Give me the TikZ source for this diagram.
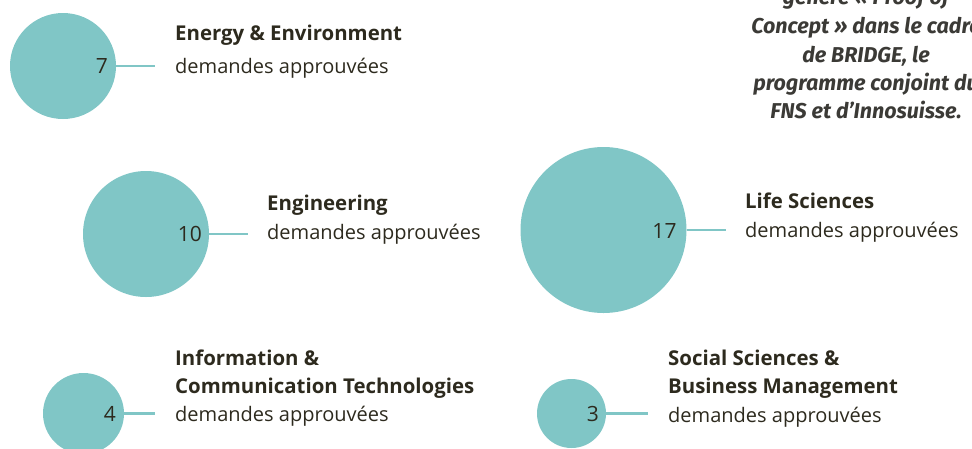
\documentclass[tikz,border=0pt]{standalone}
\usepackage{fontspec}
\setmainfont{Open Sans}
\newfontfamily\handfont{Fira Sans}
\usetikzlibrary{calc}
\definecolor{bubblecol}{HTML}{80C6C6}
\definecolor{ink}{HTML}{2D2A1E}
\definecolor{handink}{HTML}{3B3A36}
\begin{document}
\begin{tikzpicture}[x=1pt,y=-1pt,
  bubble/.style={circle,fill=bubblecol,inner sep=0pt,minimum size=#1},
  num/.style={anchor=base east,font=\fontsize{21}{21}\selectfont,text=ink,inner sep=0pt},
  conn/.style={draw=bubblecol,line width=2.5pt},
  title/.style={anchor=base west,font=\fontsize{20.4}{20.4}\selectfont\bfseries,text=ink,inner sep=0pt},
  sub/.style={anchor=base west,font=\fontsize{20}{20}\selectfont,text=ink,inner sep=0pt},
  handline/.style={anchor=base,font=\handfont\bfseries\itshape\fontsize{21.5}{21.5}\selectfont,text=handink,inner sep=0pt}]
\useasboundingbox (0,0) rectangle (972,448);
\clip (0,0) rectangle (972,448);

% Energy & Environment
\node[bubble=106pt] (c1) at (63,66) {};
\node[num] (n1) at ($(c1.east)+(-8,7)$) {7};
\coordinate (e1) at ($(c1.east)+(39,0)$);
\draw[conn] (c1.east) -- (e1);
\node[title] (t1) at (175,40) {Energy \& Environment};
\node[sub] (s1) at (175,73) {demandes approuvées};

% Engineering
\node[bubble=126pt] (c2) at (146,234) {};
\node[num] (n2) at ($(c2.east)+(-7,7)$) {10};
\coordinate (e2) at ($(c2.east)+(39,0)$);
\draw[conn] (c2.east) -- (e2);
\node[title] (t2) at (267,210) {Engineering};
\node[sub] (s2) at (267,239) {demandes approuvées};

% Life Sciences
\node[bubble=166pt] (c3) at (603.5,230) {};
\node[num] (n3) at ($(c3.east)+(-10,8)$) {17};
\coordinate (e3) at ($(c3.east)+(39,0)$);
\draw[conn] (c3.east) -- (e3);
\node[title] (t3) at (745,208) {Life Sciences};
\node[sub] (s3) at (745,237) {demandes approuvées};

% ICT
\node[bubble=81pt] (c4) at (83.5,413.5) {};
\node[num] (n4) at ($(c4.east)+(-8,8)$) {4};
\coordinate (e4) at ($(c4.east)+(31,0)$);
\draw[conn] (c4.east) -- (e4);
\node[title] (t4a) at (175,365) {Information \&};
\node[title] (t4b) at (175,393) {Communication Technologies};
\node[sub] (s4) at (175,421) {demandes approuvées};

% Social Sciences
\node[bubble=69pt] (c5) at (571.5,413.5) {};
\node[num] (n5) at ($(c5.east)+(-7,8)$) {3};
\coordinate (e5) at ($(c5.east)+(42,0)$);
\draw[conn] (c5.east) -- (e5);
\node[title] (t5a) at (668,365) {Social Sciences \&};
\node[title] (t5b) at (668,393) {Business Management};
\node[sub] (s5) at (668,422) {demandes approuvées};

% handwritten note
\node[handline] (h1) at (866,4) {génère « Proof of};
\node[handline] (h2) at (866,33) {Concept » dans le cadre};
\node[handline] (h3) at (866,62) {de BRIDGE, le};
\node[handline] (h4) at (866,90) {programme conjoint du};
\node[handline] (h5) at (866,118) {FNS et d’Innosuisse.};
\end{tikzpicture}
\end{document}
